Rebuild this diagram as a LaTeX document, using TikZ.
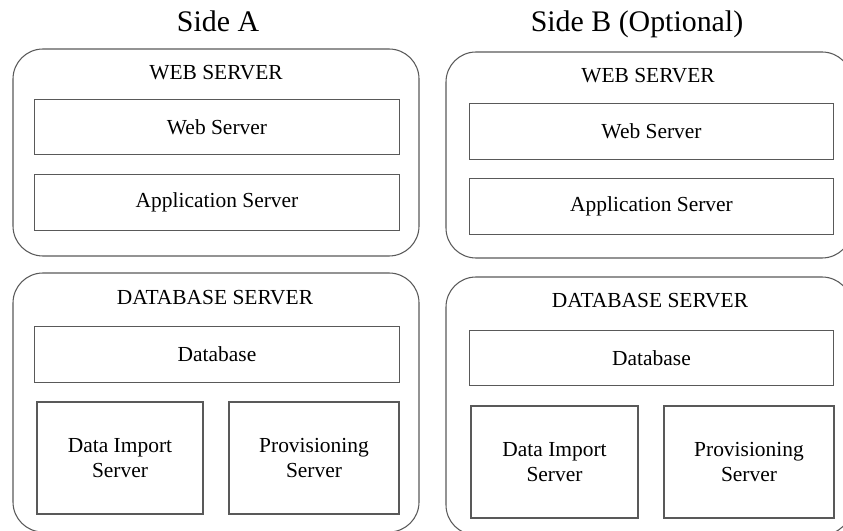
\documentclass[tikz,border=0pt]{standalone}
\usepackage{fontspec}
\setmainfont{Liberation Serif}
\begin{document}
\begin{tikzpicture}[scale=0.2]
\tikzstyle{every node}+=[inner sep=0pt, font=\fontsize{12.2}{14}\selectfont]
\tikzstyle{server}=[draw=black!65, line width=0.6pt, rounded corners=0.6cm, minimum width=8.12cm]
\tikzstyle{part}=[draw=black!65, line width=0.6pt, align=center]
\tikzstyle{wide}=[part, minimum width=7.29cm, minimum height=1.11cm]
\tikzstyle{half}=[part, minimum height=2.24cm]
\tikzstyle{side}=[anchor=base, font=\fontsize{17}{20}\selectfont]
\tikzstyle{tier}=[anchor=base]
\clip (0,0) rectangle (84.3,-53.1);
% side A
\node [side] (sideA) at (21.8,-3.2) {Side A};
\node [server, minimum height=4.14cm] (webA) at (21.6,-15.25) {};
\node [tier] (webAname) at (21.6,-8.0) {WEB SERVER};
\node [wide] (webA1) at (21.7,-12.7) {Web Server};
\node [wide] (webA2) at (21.7,-20.25) {Application Server};
\node [server, minimum height=5.18cm] (dbA) at (21.6,-40.25) {};
\node [tier] (dbAname) at (21.5,-30.5) {DATABASE SERVER};
\node [wide] (dbA1) at (21.7,-35.45) {Database};
\node [half, minimum width=3.32cm] (dbA2) at (12.0,-45.8) {Data Import\\Server};
\node [half, minimum width=3.4cm] (dbA3) at (31.4,-45.8) {Provisioning\\Server};
% side B
\node [side] (sideB) at (63.7,-3.2) {Side B (Optional)};
\node [server, minimum height=4.12cm] (webB) at (64.9,-15.5) {};
\node [tier] (webBname) at (64.8,-8.3) {WEB SERVER};
\node [wide] (webB1) at (65.15,-13.15) {Web Server};
\node [wide] (webB2) at (65.15,-20.65) {Application Server};
\node [server, minimum height=5.16cm] (dbB) at (64.9,-40.6) {};
\node [tier] (dbBname) at (65.0,-30.8) {DATABASE SERVER};
\node [wide] (dbB1) at (65.15,-35.8) {Database};
\node [half, minimum width=3.34cm] (dbB2) at (55.45,-46.2) {Data Import\\Server};
\node [half, minimum width=3.4cm] (dbB3) at (74.9,-46.2) {Provisioning\\Server};
\end{tikzpicture}
\end{document}
